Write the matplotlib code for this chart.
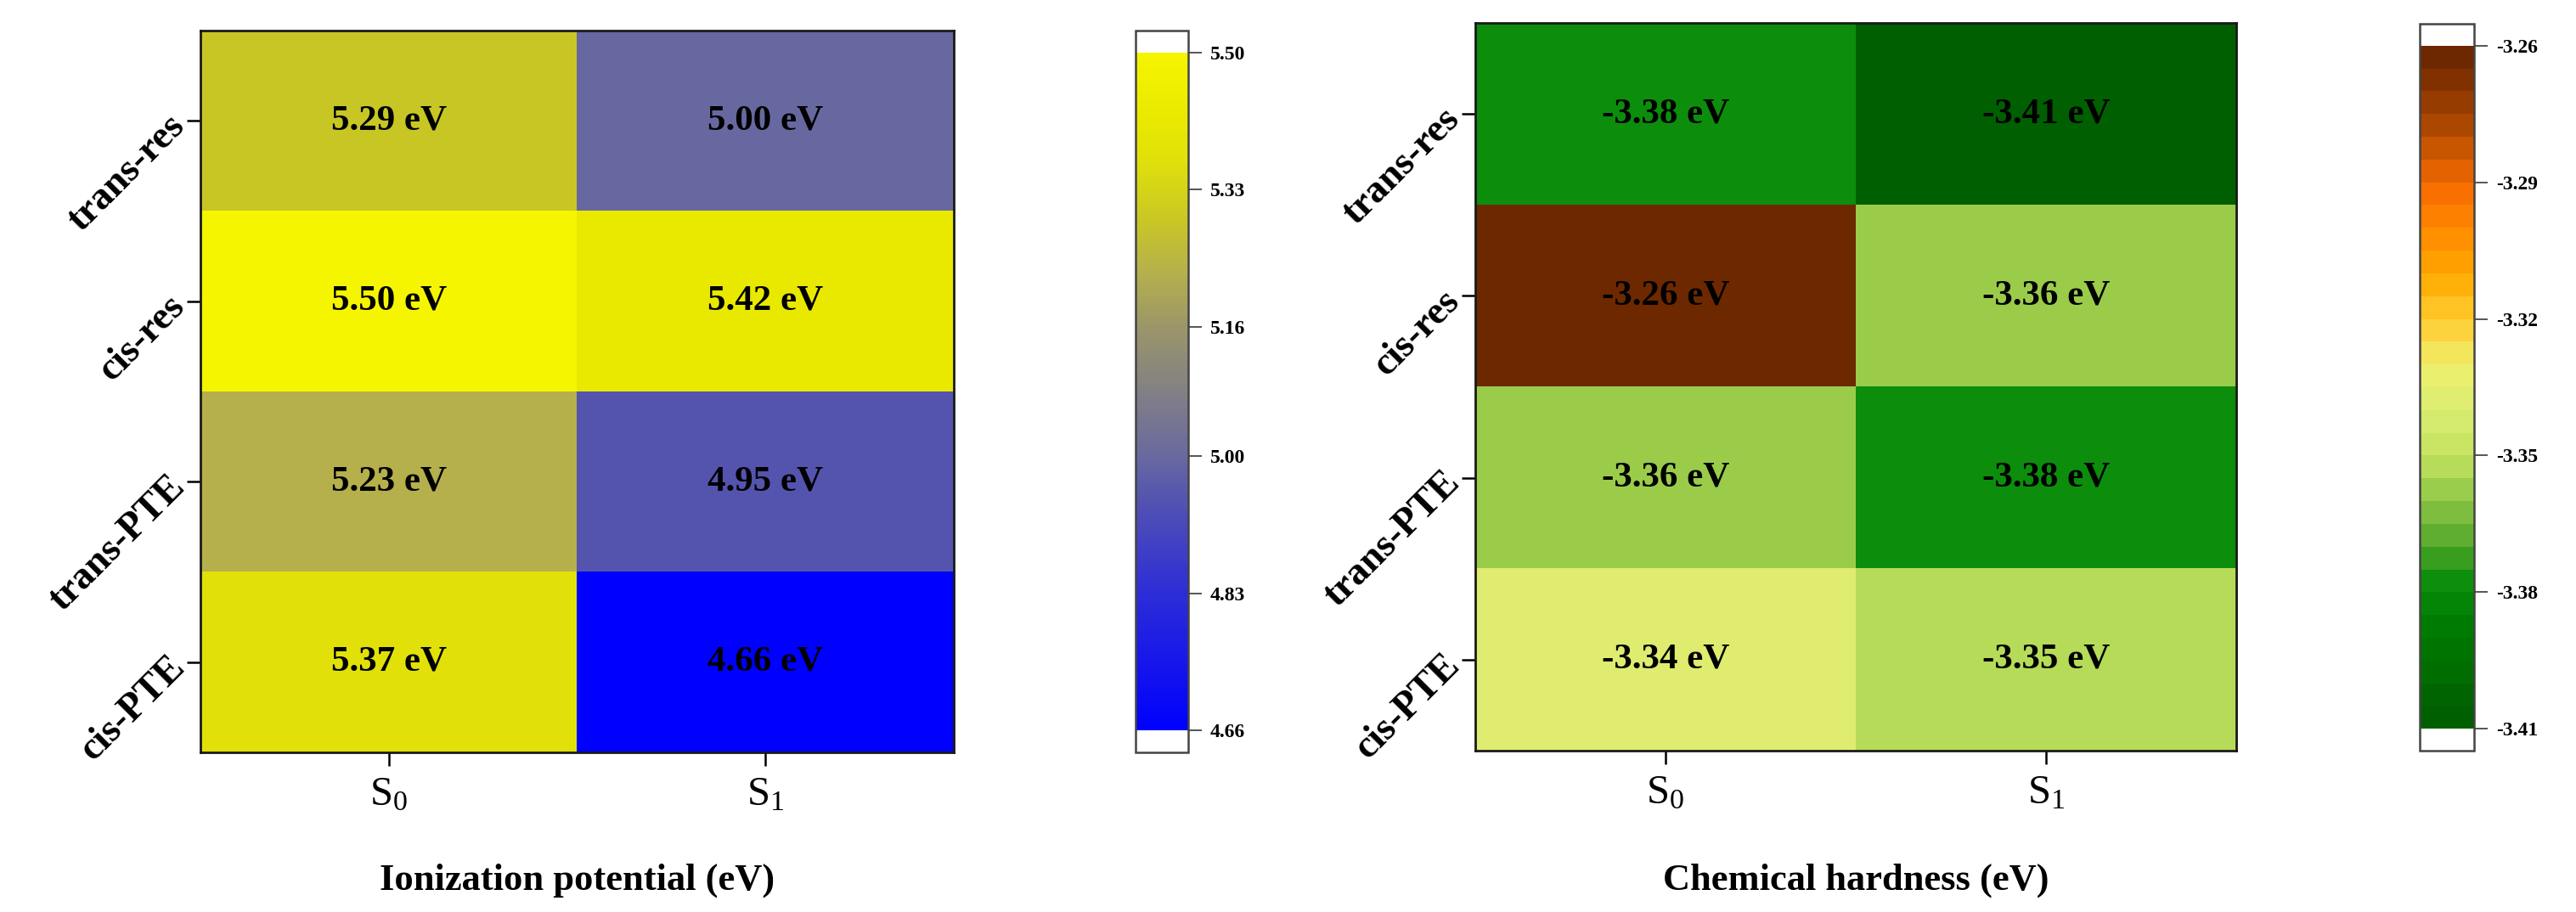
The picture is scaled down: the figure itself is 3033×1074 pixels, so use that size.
import numpy as np
import matplotlib
matplotlib.use("Agg")
import matplotlib.pyplot as plt
from matplotlib.colors import LinearSegmentedColormap, ListedColormap, Normalize

plt.rcParams['font.family'] = ['Liberation Serif', 'DejaVu Serif']
plt.rcParams['mathtext.fontset'] = 'custom'
plt.rcParams['mathtext.rm'] = 'Liberation Serif'
plt.rcParams['mathtext.it'] = 'Liberation Serif:italic'
plt.rcParams['mathtext.bf'] = 'Liberation Serif:bold'

# ---------------- data ----------------
molecules = ["trans-res", "cis-res", "trans-PTE", "cis-PTE"]
states = [r"$\mathrm{S_0}$", r"$\mathrm{S_1}$"]
ionization_S0 = [5.29, 5.50, 5.23, 5.37]
ionization_S1 = [5.00, 5.42, 4.95, 4.66]
hardness_S0 = [-3.38, -3.26, -3.36, -3.34]
hardness_S1 = [-3.41, -3.36, -3.38, -3.35]
ip_ticks = [4.66, 4.83, 5.00, 5.16, 5.33, 5.50]
ch_ticks = [-3.41, -3.38, -3.35, -3.32, -3.29, -3.26]
ip_title = "Ionization potential (eV)"
ch_title = "Chemical hardness (eV)"

# ---------------- colormaps (style) ----------------
def make_cmap(name, vmin, vmax, anchors):
    pos = [(v - vmin) / (vmax - vmin) for v, _ in anchors]
    cols = [tuple(c / 255 for c in rgb) for _, rgb in anchors]
    return LinearSegmentedColormap.from_list(name, list(zip(pos, cols)))

ip_cmap = make_cmap("ip", 4.66, 5.50, [
    (4.66, (0, 0, 255)), (4.83, (45, 45, 215)), (4.95, (85, 85, 175)),
    (5.00, (105, 105, 160)), (5.16, (155, 150, 105)), (5.23, (182, 177, 75)),
    (5.29, (200, 198, 38)), (5.37, (225, 225, 10)), (5.42, (233, 233, 0)),
    (5.50, (245, 245, 0))])
ch_base = make_cmap("ch", -3.41, -3.26, [
    (-3.41, (0, 95, 0)), (-3.39, (0, 122, 0)), (-3.38, (8, 140, 10)),
    (-3.37, (90, 170, 45)), (-3.36, (145, 200, 70)), (-3.35, (198, 228, 98)),
    (-3.34, (218, 236, 112)), (-3.33, (240, 240, 110)), (-3.32, (255, 205, 50)),
    (-3.31, (255, 170, 0)), (-3.30, (255, 140, 0)), (-3.29, (250, 110, 0)),
    (-3.275, (170, 70, 0)), (-3.26, (110, 40, 0))])
ch_cmap = ListedColormap(ch_base(np.linspace(0, 1, 30)))
for cm in (ip_cmap, ch_cmap):
    cm.set_over("white")
    cm.set_under("white")

W, H = 3033, 1074
fig = plt.figure(figsize=(W / 100, H / 100), dpi=100)
fig.patch.set_facecolor("white")

def box(x0, y0, x1, y1):
    return [x0 / W, 1 - y1 / H, (x1 - x0) / W, (y1 - y0) / H]

LABEL_Y_PX = 1037

def heat(ax, cax, s0, s1, ticks, cmap, title, fmt, ybot_px, h_px):
    data = np.array([s0, s1]).T
    norm = Normalize(vmin=min(ticks), vmax=max(ticks))
    im = ax.imshow(data, cmap=cmap, norm=norm, aspect="auto", interpolation="nearest")
    for i in range(data.shape[0]):
        for j in range(data.shape[1]):
            ax.text(j, i, fmt.format(data[i, j]), ha="center", va="center",
                    fontsize=31, fontweight="bold", color="black")
    ax.set_xticks(range(len(states)))
    ax.set_xticklabels(states, fontsize=35)
    ax.set_yticks(range(len(molecules)))
    ax.set_yticklabels(molecules, fontsize=33, fontweight="bold", rotation=45,
                       ha="right", va="center", rotation_mode="anchor")
    ax.tick_params(axis="both", length=11.5, width=1.8, color="black")
    ax.tick_params(axis="x", pad=9)
    ax.tick_params(axis="y", pad=6)
    for sp in ax.spines.values():
        sp.set_linewidth(2.0)
        sp.set_color("#1a1a1a")
    ax.set_xlabel(title, fontsize=32, fontweight="bold")
    ax.xaxis.set_label_coords(0.5, -(LABEL_Y_PX - ybot_px) / h_px)
    ax.xaxis.label.set_va("center")
    cb = fig.colorbar(im, cax=cax, extend="both", extendrect=True,
                      extendfrac=0.032, ticks=ticks, drawedges=False)
    cb.outline.set_linewidth(1.8)
    cb.outline.set_edgecolor("#444444")
    cb.ax.tick_params(length=11.5, width=1.4, color="#555555", pad=7)
    cb.ax.set_yticklabels([f"{t:.2f}" for t in ticks], fontsize=17, fontweight="bold")
    return cb

ax1 = fig.add_axes(box(236, 36, 1123, 886))
cax1 = fig.add_axes(box(1337, 36, 1399, 886))
ax2 = fig.add_axes(box(1737, 27, 2633, 884))
cax2 = fig.add_axes(box(2849, 28, 2913, 884))

heat(ax1, cax1, ionization_S0, ionization_S1, ip_ticks, ip_cmap, ip_title, "{:.2f} eV", 886, 850)
heat(ax2, cax2, hardness_S0, hardness_S1, ch_ticks, ch_cmap, ch_title, "{:.2f} eV", 884, 857)

fig.savefig("out.png", dpi=100, facecolor="white")
